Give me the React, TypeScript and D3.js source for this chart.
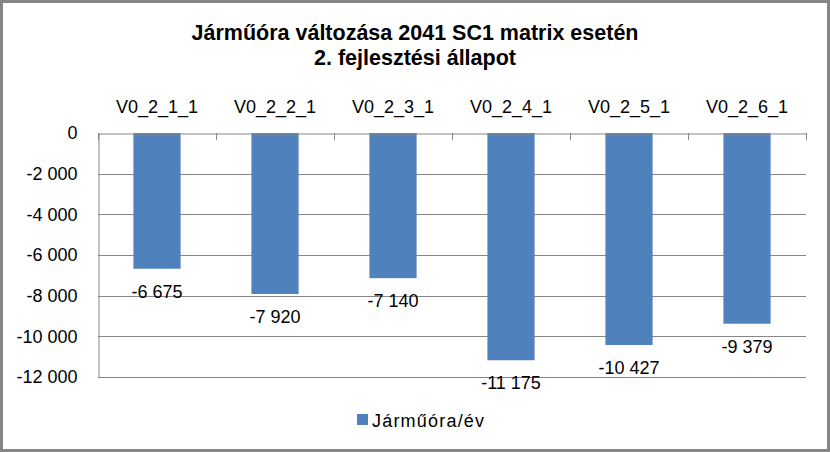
import React, { useRef, useEffect } from 'react';
import * as d3 from 'd3';

const categories = ['V0_2_1_1', 'V0_2_2_1', 'V0_2_3_1', 'V0_2_4_1', 'V0_2_5_1', 'V0_2_6_1'];
const values = [-6675, -7920, -7140, -11175, -10427, -9379];
const yTicks = [0, -2000, -4000, -6000, -8000, -10000, -12000];
const titleLines = ['Járműóra változása 2041 SC1 matrix esetén', '2. fejlesztési állapot'];
const seriesName = 'Járműóra/év';

const W = 830;
const H = 452;
const FONT = '"Liberation Sans", Arial, sans-serif';

// "-12 000" style: space as thousands separator
const fmt = (v: number) => {
  const s = Math.abs(v).toString().replace(/\B(?=(\d{3})+(?!\d))/g, ' ');
  return (v < 0 ? '-' : '') + s;
};

export default function App() {
  const svgRef = useRef<SVGSVGElement>(null);

  useEffect(() => {
    document.body.style.margin = '0';
    const svg = d3.select(svgRef.current);
    svg.selectAll('*').remove();

    const left = 98, right = 806, top = 133, bottom = 377;

    const x = d3.scaleBand().domain(categories).range([left, right]);
    const y = d3.scaleLinear().domain([0, -12000]).range([top, bottom]);
    const barW = x.bandwidth() * 0.4;

    svg.append('rect')
      .attr('x', 1.5).attr('y', 1.5)
      .attr('width', W - 3).attr('height', H - 3)
      .attr('fill', '#fff').attr('stroke', '#868686').attr('stroke-width', 3);

    // title
    svg.append('g').selectAll('text')
      .data(titleLines)
      .join('text')
      .attr('x', 415)
      .attr('y', (d, i) => 40 + i * 25)
      .attr('text-anchor', 'middle')
      .attr('font-family', FONT)
      .attr('font-weight', 'bold')
      .attr('font-size', 21.5)
      .attr('fill', '#000')
      .text(d => d);

    // gridlines
    svg.append('g').selectAll('line')
      .data(yTicks.filter(t => t !== 0))
      .join('line')
      .attr('x1', left).attr('x2', right)
      .attr('y1', d => Math.round(y(d)) + 0.5).attr('y2', d => Math.round(y(d)) + 0.5)
      .attr('stroke', '#868686');

    // y axis
    const yAxis = d3.axisLeft(y).tickValues(yTicks).tickSize(0).tickPadding(21).tickFormat(d => fmt(+d));
    const gy = svg.append('g').attr('transform', `translate(${left + 0.5},0)`).call(yAxis);
    gy.select('.domain').attr('stroke', '#868686');
    gy.selectAll('text').attr('font-family', FONT).attr('font-size', 18).attr('fill', '#000');

    // bars
    svg.append('g').selectAll('rect')
      .data(values)
      .join('rect')
      .attr('x', (d, i) => x(categories[i])! + (x.bandwidth() - barW) / 2)
      .attr('y', y(0))
      .attr('width', barW)
      .attr('height', d => y(d) - y(0))
      .attr('fill', '#4f81bd');

    // zero axis with category ticks, labels on top
    const xAxis = d3.axisTop(x).tickSize(0).tickPadding(21);
    const gx = svg.append('g').attr('transform', `translate(0,${top + 0.5})`).call(xAxis);
    gx.select('.domain').attr('stroke', '#868686');
    gx.selectAll('text').attr('font-family', FONT).attr('font-size', 18).attr('fill', '#000');
    svg.append('g').selectAll('line')
      .data(d3.range(categories.length + 1))
      .join('line')
      .attr('x1', i => Math.round(left + i * x.bandwidth()) + 0.5)
      .attr('x2', i => Math.round(left + i * x.bandwidth()) + 0.5)
      .attr('y1', top).attr('y2', top + 7)
      .attr('stroke', '#868686');

    // data labels
    svg.append('g').selectAll('text')
      .data(values)
      .join('text')
      .attr('x', (d, i) => x(categories[i])! + x.bandwidth() / 2)
      .attr('y', d => y(d) + 29)
      .attr('text-anchor', 'middle')
      .attr('font-family', FONT)
      .attr('font-size', 18)
      .attr('fill', '#000')
      .text(d => fmt(d));

    // legend
    const lg = svg.append('g');
    lg.append('rect').attr('x', 357).attr('y', 414).attr('width', 11).attr('height', 11).attr('fill', '#4f81bd');
    lg.append('text').attr('x', 372).attr('y', 427)
      .attr('font-family', FONT).attr('font-size', 18).attr('letter-spacing', 1.2).attr('fill', '#000')
      .text(seriesName);
  }, []);

  return <svg ref={svgRef} width={W} height={H} style={{ display: 'block' }} />;
}
